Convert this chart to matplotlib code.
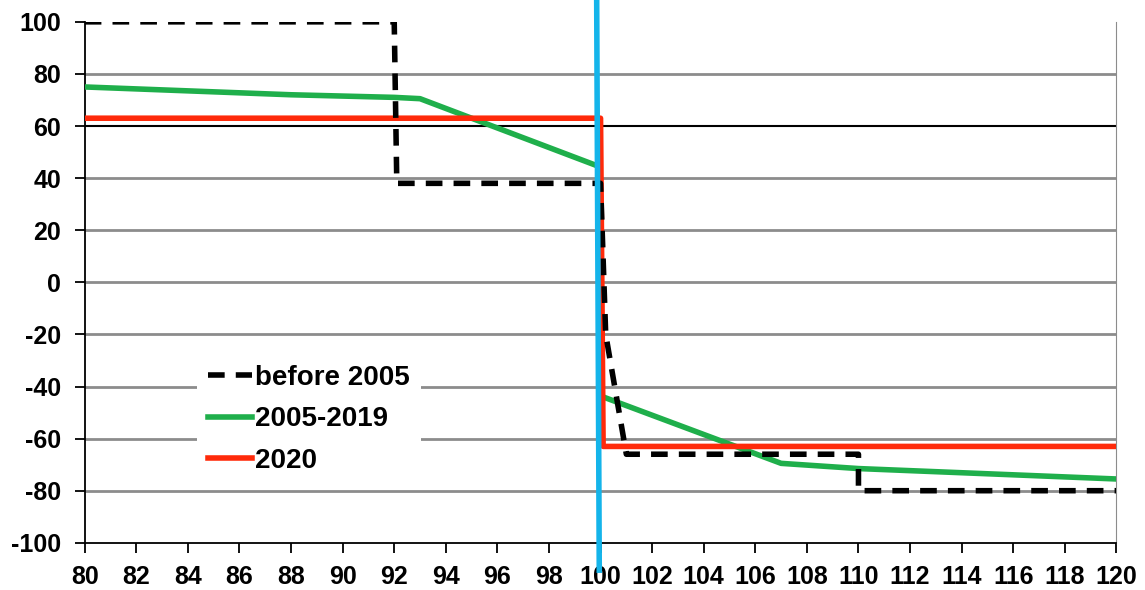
import numpy as np
import matplotlib.pyplot as plt

plt.rcParams['font.family'] = ['Liberation Sans', 'DejaVu Sans']
plt.rcParams['font.weight'] = 'bold'
plt.rcParams['axes.unicode_minus'] = False

# before 2005 (black dashed)
x_old = [80, 92, 92.1, 99.8, 100, 100.2, 101, 110, 110, 120]
y_old = [100, 100, 38, 38, 38, -20, -66, -66, -80, -80]
# 2005-2019 (green)
x_mid1 = [80, 88, 92, 93, 99.8]
y_mid1 = [75, 72, 71, 70.5, 45]
x_mid2 = [100.1, 107, 110, 120]
y_mid2 = [-44, -69.5, -71.5, -75.5]
# 2020 (red)
x_new = [80, 100, 100.1, 120]
y_new = [63, 63, -63, -63]

yticks = np.arange(-100, 101, 20)
xticks = np.arange(80, 121, 2)

fig = plt.figure(figsize=(11.45, 5.9), dpi=100)
ax = fig.add_axes([0.074, 0.080, 0.901, 0.883])

for y in yticks:
    if y == 60:
        ax.axhline(y, color='black', lw=1.5, zorder=1)
    elif y not in (100, -100):
        ax.axhline(y, color='#8c8c8c', lw=2, zorder=1)

ax.plot(x_mid1, y_mid1, color='#1faf4b', lw=4, zorder=3, label='2005-2019')
ax.plot(x_mid2, y_mid2, color='#1faf4b', lw=4, zorder=3)
ax.plot(x_new, y_new, color='#ff2a0a', lw=4, zorder=4, label='2020')
ax.plot(x_old, y_old, color='black', lw=4, ls=(0, (3, 2)), zorder=5, label='before 2005')

# vertical reference line (extends beyond the plot area)
ax.plot([99.85, 99.95], [108.5, -110.5], color='#14b4ea', lw=4, zorder=6, clip_on=False)

ax.set_xlim(80, 120)
ax.set_ylim(-100, 100)
ax.set_xticks(xticks)
ax.set_yticks(yticks)
ax.tick_params(axis='both', direction='out', length=7, width=1.3, labelsize=18)
ax.tick_params(axis='x', pad=9)
ax.tick_params(axis='y', pad=10)
for lab in ax.get_xticklabels() + ax.get_yticklabels():
    lab.set_fontweight('bold')

ax.spines['top'].set_visible(False)
ax.spines['right'].set_color('#8c8c8c')
ax.spines['left'].set_linewidth(1.3)
ax.spines['bottom'].set_linewidth(1.3)

h, l = ax.get_legend_handles_labels()
order = [2, 0, 1]
leg = ax.legend([h[i] for i in order], [l[i] for i in order], loc='lower left',
                bbox_to_anchor=(0.095, 0.085), frameon=True, fancybox=False,
                edgecolor='none', facecolor='white', framealpha=1,
                prop={'size': 20, 'weight': 'bold'}, handlelength=1.6,
                handletextpad=0.1, labelspacing=0.55, borderpad=0.4)
leg.set_zorder(7)

fig.savefig('out.png', dpi=100)
